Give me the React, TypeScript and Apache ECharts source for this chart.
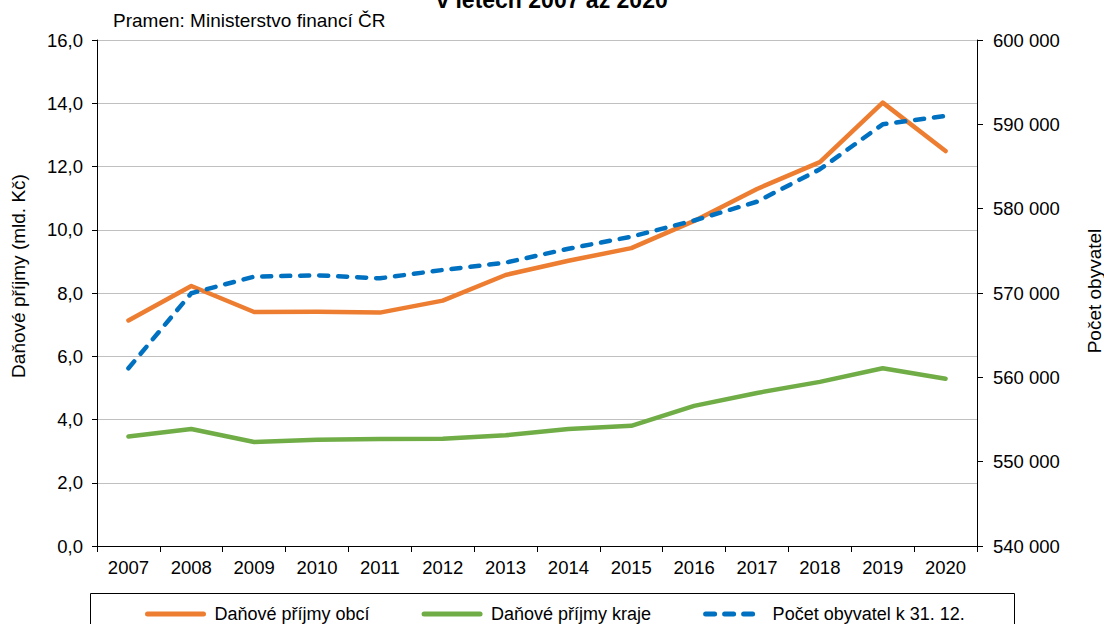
import React, { useEffect, useRef } from "react";
import * as echarts from "echarts";

const years = ["2007", "2008", "2009", "2010", "2011", "2012", "2013", "2014", "2015", "2016", "2017", "2018", "2019", "2020"];
const obce = [7.13, 8.22, 7.40, 7.41, 7.38, 7.76, 8.57, 9.02, 9.42, 10.28, 11.29, 12.14, 14.02, 12.49];
const kraje = [3.46, 3.70, 3.29, 3.36, 3.38, 3.39, 3.50, 3.70, 3.80, 4.43, 4.84, 5.19, 5.62, 5.29];
const obyvatel = [561070, 569970, 571940, 572100, 571740, 572730, 573600, 575250, 576680, 578600, 580830, 584670, 590000, 590990];

const leftTicks = { min: 0, max: 16, interval: 2 };
const rightTicks = { min: 540000, max: 600000, interval: 10000 };

const FONT = "'Liberation Sans', Arial, sans-serif";

export default function App() {
  const ref = useRef<HTMLDivElement>(null);
  useEffect(() => {
    document.body.style.margin = "0";
    const chart = echarts.init(ref.current!, undefined, { renderer: "svg" });
    chart.setOption({
      animation: false,
      textStyle: { fontFamily: FONT, color: "#000" },
      grid: { left: 97, right: 127, top: 40, bottom: 78, containLabel: false },
      graphic: [
        {
          type: "text",
          style: {
            text: "v letech 2007 až 2020",
            x: 552,
            y: 11,
            align: "center",
            verticalAlign: "bottom",
            font: `bold 23px ${FONT}`,
            fill: "#000",
          },
        },
        {
          type: "text",
          style: {
            text: "Pramen: Ministerstvo financí ČR",
            x: 113,
            y: 20,
            verticalAlign: "middle",
            font: `19px ${FONT}`,
            fill: "#000",
          },
        },
        {
          type: "text",
          x: 18,
          y: 276,
          rotation: Math.PI / 2,
          style: {
            text: "Daňové příjmy (mld. Kč)",
            align: "center",
            verticalAlign: "middle",
            font: `19px ${FONT}`,
            fill: "#000",
          },
        },
        {
          type: "text",
          x: 1094,
          y: 291,
          rotation: Math.PI / 2,
          style: {
            text: "Počet obyvatel",
            align: "center",
            verticalAlign: "middle",
            font: `19px ${FONT}`,
            fill: "#000",
          },
        },
        {
          type: "rect",
          shape: { x: 90.5, y: 593.5, width: 924, height: 60 },
          style: { fill: "none", stroke: "#000", lineWidth: 1 },
          z: 1,
        },
      ],
      legend: {
        left: 140,
        top: 600,
        itemWidth: 56,
        itemHeight: 18,
        itemGap: 52,
        itemStyle: { opacity: 0, borderWidth: 0 },
        lineStyle: { width: 5, cap: "round" },
        textStyle: { fontFamily: FONT, fontSize: 18, color: "#000", padding: [0, 0, 0, 6] },
        data: ["Daňové příjmy obcí", "Daňové příjmy kraje", "Počet obyvatel k 31. 12."],
      },
      xAxis: {
        type: "category",
        data: years,
        boundaryGap: true,
        axisLine: { lineStyle: { color: "#000", width: 1 } },
        axisTick: { show: true, length: 6, lineStyle: { color: "#000" } },
        axisLabel: { fontFamily: FONT, fontSize: 18.5, color: "#000", margin: 12 },
      },
      yAxis: [
        {
          type: "value",
          ...leftTicks,
          position: "left",
          axisLine: { show: true, lineStyle: { color: "#000", width: 1 } },
          axisTick: { show: true, length: 5, lineStyle: { color: "#000" } },
          axisLabel: {
            fontFamily: FONT,
            fontSize: 18.5,
            color: "#000",
            margin: 14,
            formatter: (v: number) => v.toFixed(1).replace(".", ","),
          },
          splitLine: { show: true, lineStyle: { color: "#C0C0C0", width: 1 } },
        },
        {
          type: "value",
          ...rightTicks,
          position: "right",
          axisLine: { show: true, lineStyle: { color: "#000", width: 1 } },
          axisTick: { show: true, length: 6, lineStyle: { color: "#000" } },
          axisLabel: {
            fontFamily: FONT,
            fontSize: 18.5,
            color: "#000",
            margin: 16,
            formatter: (v: number) => String(v).replace(/\B(?=(\d{3})+(?!\d))/g, " "),
          },
          splitLine: { show: false },
        },
      ],
      series: [
        {
          name: "Daňové příjmy obcí",
          type: "line",
          data: obce,
          yAxisIndex: 0,
          symbol: "none",
          lineStyle: { color: "#ED7D31", width: 4.5, cap: "round", join: "round" },
          itemStyle: { color: "#ED7D31" },
          z: 3,
        },
        {
          name: "Daňové příjmy kraje",
          type: "line",
          data: kraje,
          yAxisIndex: 0,
          symbol: "none",
          lineStyle: { color: "#70AD47", width: 4.5, cap: "round", join: "round" },
          itemStyle: { color: "#70AD47" },
          z: 3,
        },
        {
          name: "Počet obyvatel k 31. 12.",
          type: "line",
          data: obyvatel,
          yAxisIndex: 1,
          symbol: "none",
          lineStyle: { color: "#0070C0", width: 4.5, type: [9, 10], cap: "round", join: "round" },
          itemStyle: { color: "#0070C0" },
          z: 4,
        },
      ],
    });
    return () => chart.dispose();
  }, []);
  return <div ref={ref} style={{ width: 1104, height: 624 }} />;
}
